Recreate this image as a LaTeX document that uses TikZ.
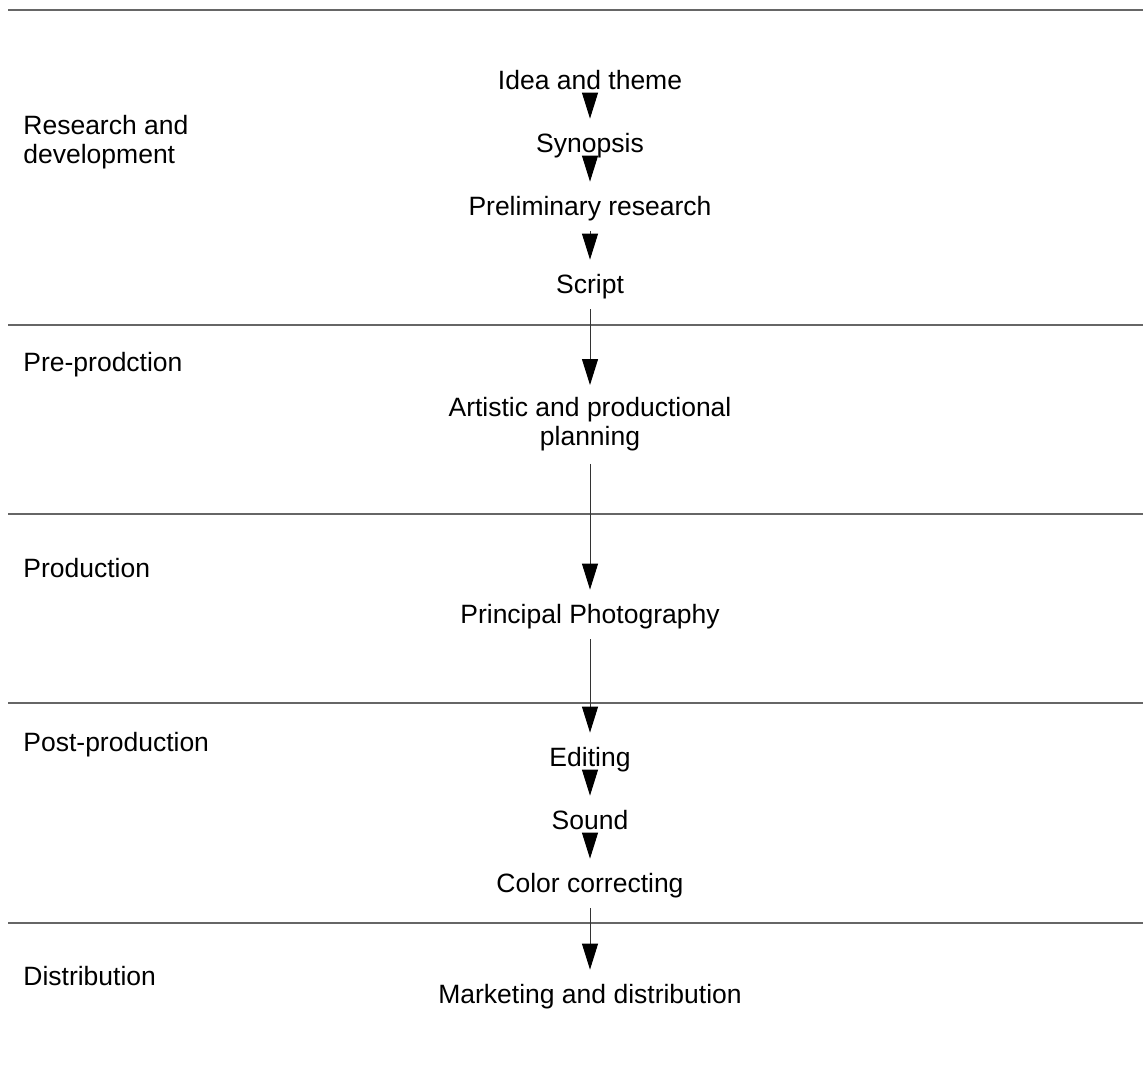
\documentclass[tikz,border=0pt]{standalone}
\usepackage{fontspec}
\setmainfont{Liberation Sans}
\usetikzlibrary{arrows.meta}

\tikzset{
  stage/.style={anchor=base west,inner sep=0pt,align=left},
  task/.style={anchor=base,inner sep=0pt,text height=16.5pt,text depth=8pt},
  flow/.style={draw=black!80,line width=0.5pt,-{Triangle[length=13pt,width=8pt,color=black]}},
  divider/.style={draw=black!60,line width=0.7pt}
}

\begin{document}
\begin{tikzpicture}[x=0.5pt,y=-0.5pt,font=\fontsize{13.25pt}{14.5pt}\selectfont]
    \useasboundingbox (0,0) rectangle (1144,1078);
    \foreach \y in {10,325,514,703,923}
      \draw[divider] (8,\y) -- (1143,\y);

    \node[stage,anchor=west] (rnd) at (23,142) {Research and\\development};
    \node[stage] (pre)  at (23,371) {Pre-prodction};
    \node[stage] (prod) at (23,577) {Production};
    \node[stage] (post) at (23,751) {Post-production};
    \node[stage] (dist) at (23,985) {Distribution};

    \node[task] (idea)      at (590,89)  {Idea and theme};
    \node[task] (synopsis)  at (590,152) {Synopsis};
    \node[task] (research)  at (590,215) {Preliminary research};
    \node[task] (script)    at (590,293) {Script};
    \node[anchor=north,inner sep=0pt,minimum height=39pt,align=center]
      (planning) at (590,385) {Artistic and productional\\planning};
    \node[task] (photo)     at (590,623) {Principal Photography};
    \node[task] (editing)   at (590,766) {Editing};
    \node[task] (sound)     at (590,829) {Sound};
    \node[task] (color)     at (590,892) {Color correcting};
    \node[task] (marketing) at (590,1003) {Marketing and distribution};

    \foreach \a/\b in {idea/synopsis,synopsis/research,research/script,
      script/planning,planning/photo,photo/editing,editing/sound,
      sound/color,color/marketing}
      \draw[flow] (\a.south) -- (\b.north);
\end{tikzpicture}
\end{document}
